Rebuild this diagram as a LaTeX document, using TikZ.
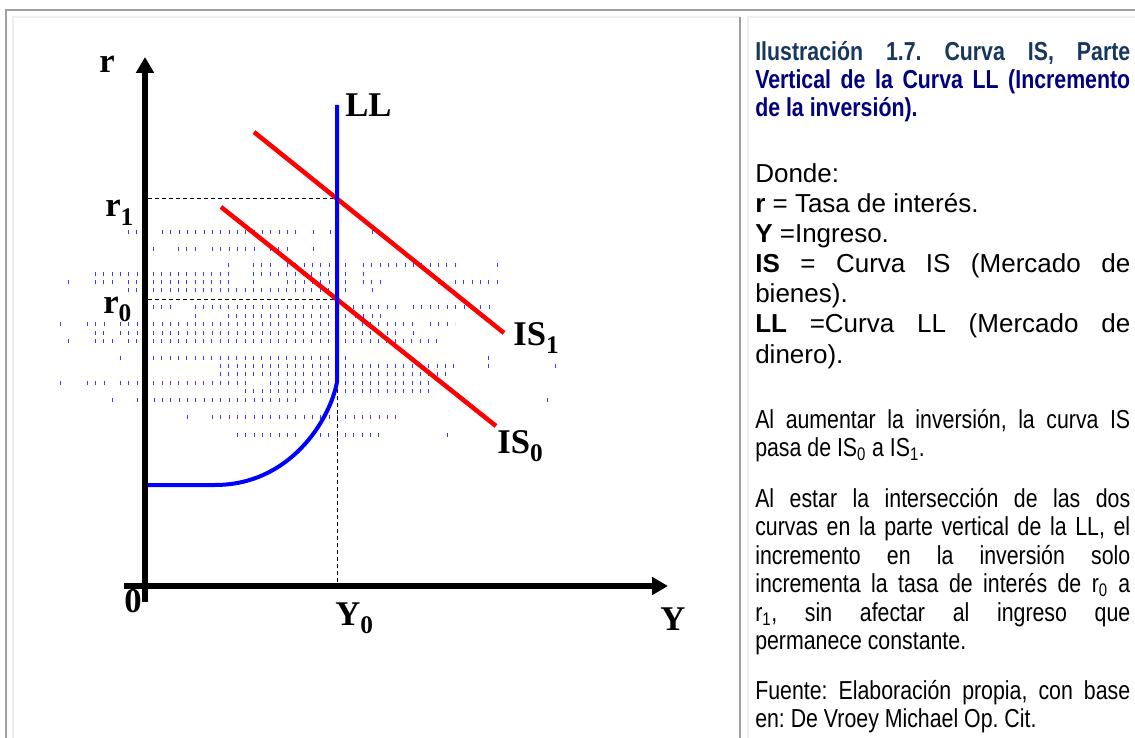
\documentclass[tikz,border=0pt]{standalone}
\usepackage{fontspec}
\setmainfont{Liberation Sans}
\newfontfamily\narrowfont[FakeStretch=0.82]{Liberation Sans}
\newfontfamily\timesfont{Liberation Serif}
\usetikzlibrary{arrows.meta}
\definecolor{IsRed}{HTML}{FF0000}
\definecolor{LlBlue}{HTML}{0000FF}
\definecolor{TickBlue}{HTML}{3C3CFF}
\definecolor{FrameGray}{HTML}{A0A0A0}
\definecolor{FramePale}{HTML}{EEEEEE}
\definecolor{TitleSlate}{HTML}{17375E}
\definecolor{TitleNavy}{HTML}{000080}
\hyphenpenalty=10000
\tolerance=9999
\frenchspacing
\newcommand{\lsub}[2]{#1{\fontsize{19}{19}\selectfont\raisebox{-6pt}{#2}}}
\tikzset{
  axis/.style={line width=4.5pt,-{Triangle[length=12pt,width=13pt]}},
  islin/.style={draw=IsRed,line width=3.4pt},
  llcurve/.style={draw=LlBlue,line width=3pt,line join=round},
  guide/.style={draw=black,line width=0.75pt,dash pattern=on 3pt off 2.25pt},
  ticks/.style={draw=TickBlue,line width=3pt,dash pattern=on 0.75pt off 5.5pt},
  framegray/.style={draw=FrameGray,line width=1.5pt},
  framepale/.style={draw=FramePale,line width=1.5pt},
  lbl/.style={anchor=base west,inner sep=0pt,font=\timesfont\bfseries\fontsize{26}{26}\selectfont},
  textpar/.style={anchor=base west,text width=281.25pt,align=justify,inner sep=0pt,
    font=\fontsize{19.5}{22.5}\selectfont\frenchspacing},
  narrowpar/.style={textpar,font=\narrowfont\fontsize{19.5}{21.4}\selectfont\frenchspacing},
  titlepar/.style={textpar,text=TitleNavy,font=\narrowfont\bfseries\fontsize{19.5}{21}\selectfont\frenchspacing}
}
\begin{document}
\begin{tikzpicture}[x=0.75pt,y=-0.75pt]
  \useasboundingbox (0,0) rectangle (1135,738);
  % table cells
  \draw[framepale] (13,738) -- (13,17) -- (740,17);
  \draw[framepale] (748,738) -- (748,17) -- (1135,17);
  \draw[framegray] (6,738) -- (6,10) -- (1135,10);
  \draw[framegray] (740,17) -- (740,738);

  % scan noise behind the curves
  \foreach \ry/\xa/\xb in {232/128/146,232/162/298,232/313/314,232/330/331,232/372/373,
      249/153/154,249/178/196,249/212/254,249/270/289,249/313/314,
      265/228/229,265/253/271,265/287/347,265/363/430,265/438/455,265/497/498,
      274/95/113,274/120/138,274/153/230,274/253/347,274/363/364,
      282/68/69,282/95/113,282/128/230,282/253/254,282/287/347,282/363/380,282/438/439,282/455/497,
      290/128/138,290/153/347,290/372/373,
      307/153/170,307/195/400,307/413/440,307/447/490,
      316/195/196,316/228/347,316/355/388,
      324/60/61,324/87/104,324/120/413,324/430/455,
      333/95/104,333/120/397,333/413/414,
      341/68/69,341/95/113,341/128/438,
      358/120/121,358/153/347,358/488/489,
      366/220/455,366/488/489,366/555/556,
      374/220/447,
      383/60/61,383/87/104,383/120/247,383/270/430,
      391/245/430,
      400/112/113,400/137/297,400/547/548,
      417/187/188,417/212/397,
      435/237/300,435/320/380,435/447/448}
    \draw[ticks] (\xa,\ry) -- (\xb,\ry);

  \coordinate (yBot) at (145,602);
  \coordinate (yTop) at (145,57);
  \coordinate (xLeft) at (124,586);
  \coordinate (xEnd) at (668,586);
  \coordinate (llTop) at (337,105);
  \coordinate (llKnee) at (337,382);
  \coordinate (llFlat) at (215,485);
  \coordinate (llStart) at (147,485);
  \coordinate (e1) at (337,199);
  \coordinate (e0) at (337,299);
  \coordinate (yZero) at (337,586);

  \draw[guide] (148,199) -- (e1);
  \draw[guide] (148,299) -- (e0);
  \draw[guide] (llKnee) -- (yZero);

  \draw[islin] (254,132) coordinate (is1a) -- (504,333) coordinate (is1b);
  \draw[islin] (221,207) coordinate (is0a) -- (496,426) coordinate (is0b);
  \draw[llcurve] (llTop) -- (llKnee) .. controls (330,420) and (290,485) .. (llFlat) -- (llStart);

  \draw[axis] (yBot) -- (yTop);
  \draw[axis] (xLeft) -- (xEnd);

  \node[lbl] (rlab) at (99,73) {r};
  \node[lbl] (lllab) at (345,117) {LL};
  \node[lbl] (r1lab) at (105,217) {\lsub{r}{1}};
  \node[lbl] (r0lab) at (103,313) {\lsub{r}{0}};
  \node[lbl] (is1lab) at (513,345) {\lsub{IS}{1}};
  \node[lbl] (is0lab) at (497,453) {\lsub{IS}{0}};
  \node[lbl] (zerolab) at (124,612) {0};
  \node[lbl] (y0lab) at (335,625) {\lsub{Y}{0}};
  \node[lbl] (ylab) at (660,630) {Y};

  % right cell
  \node[titlepar] (title) at (755,61) {{\color{TitleSlate}Ilustración 1.7. Curva IS, Parte}\linebreak
    Vertical de la Curva LL (Incremento\linebreak de la inversión).};
  \node[textpar] (gloss) at (755,183) {Donde:\\ \textbf{r} = Tasa de interés.\\ \textbf{Y} =Ingreso.\\
    \textbf{IS} = Curva IS (Mercado de\linebreak bienes).\\
    \textbf{LL} =Curva LL (Mercado de\linebreak dinero).};
  \node[narrowpar] (shift) at (755,428) {Al aumentar la inversión, la curva IS\linebreak
    pasa de IS\textsubscript{0} a IS\textsubscript{1}.};
  \node[narrowpar] (result) at (755,507) {Al estar la intersección de las dos\linebreak
    curvas en la parte vertical de la LL, el\linebreak incremento en la inversión solo\linebreak
    incrementa la tasa de interés de r\textsubscript{0} a\linebreak
    r\textsubscript{1}, sin afectar al ingreso que\linebreak permanece constante.};
  \node[narrowpar] (source) at (755,699) {Fuente: Elaboración propia, con base\linebreak
    en: De Vroey Michael Op. Cit.};
\end{tikzpicture}
\end{document}
